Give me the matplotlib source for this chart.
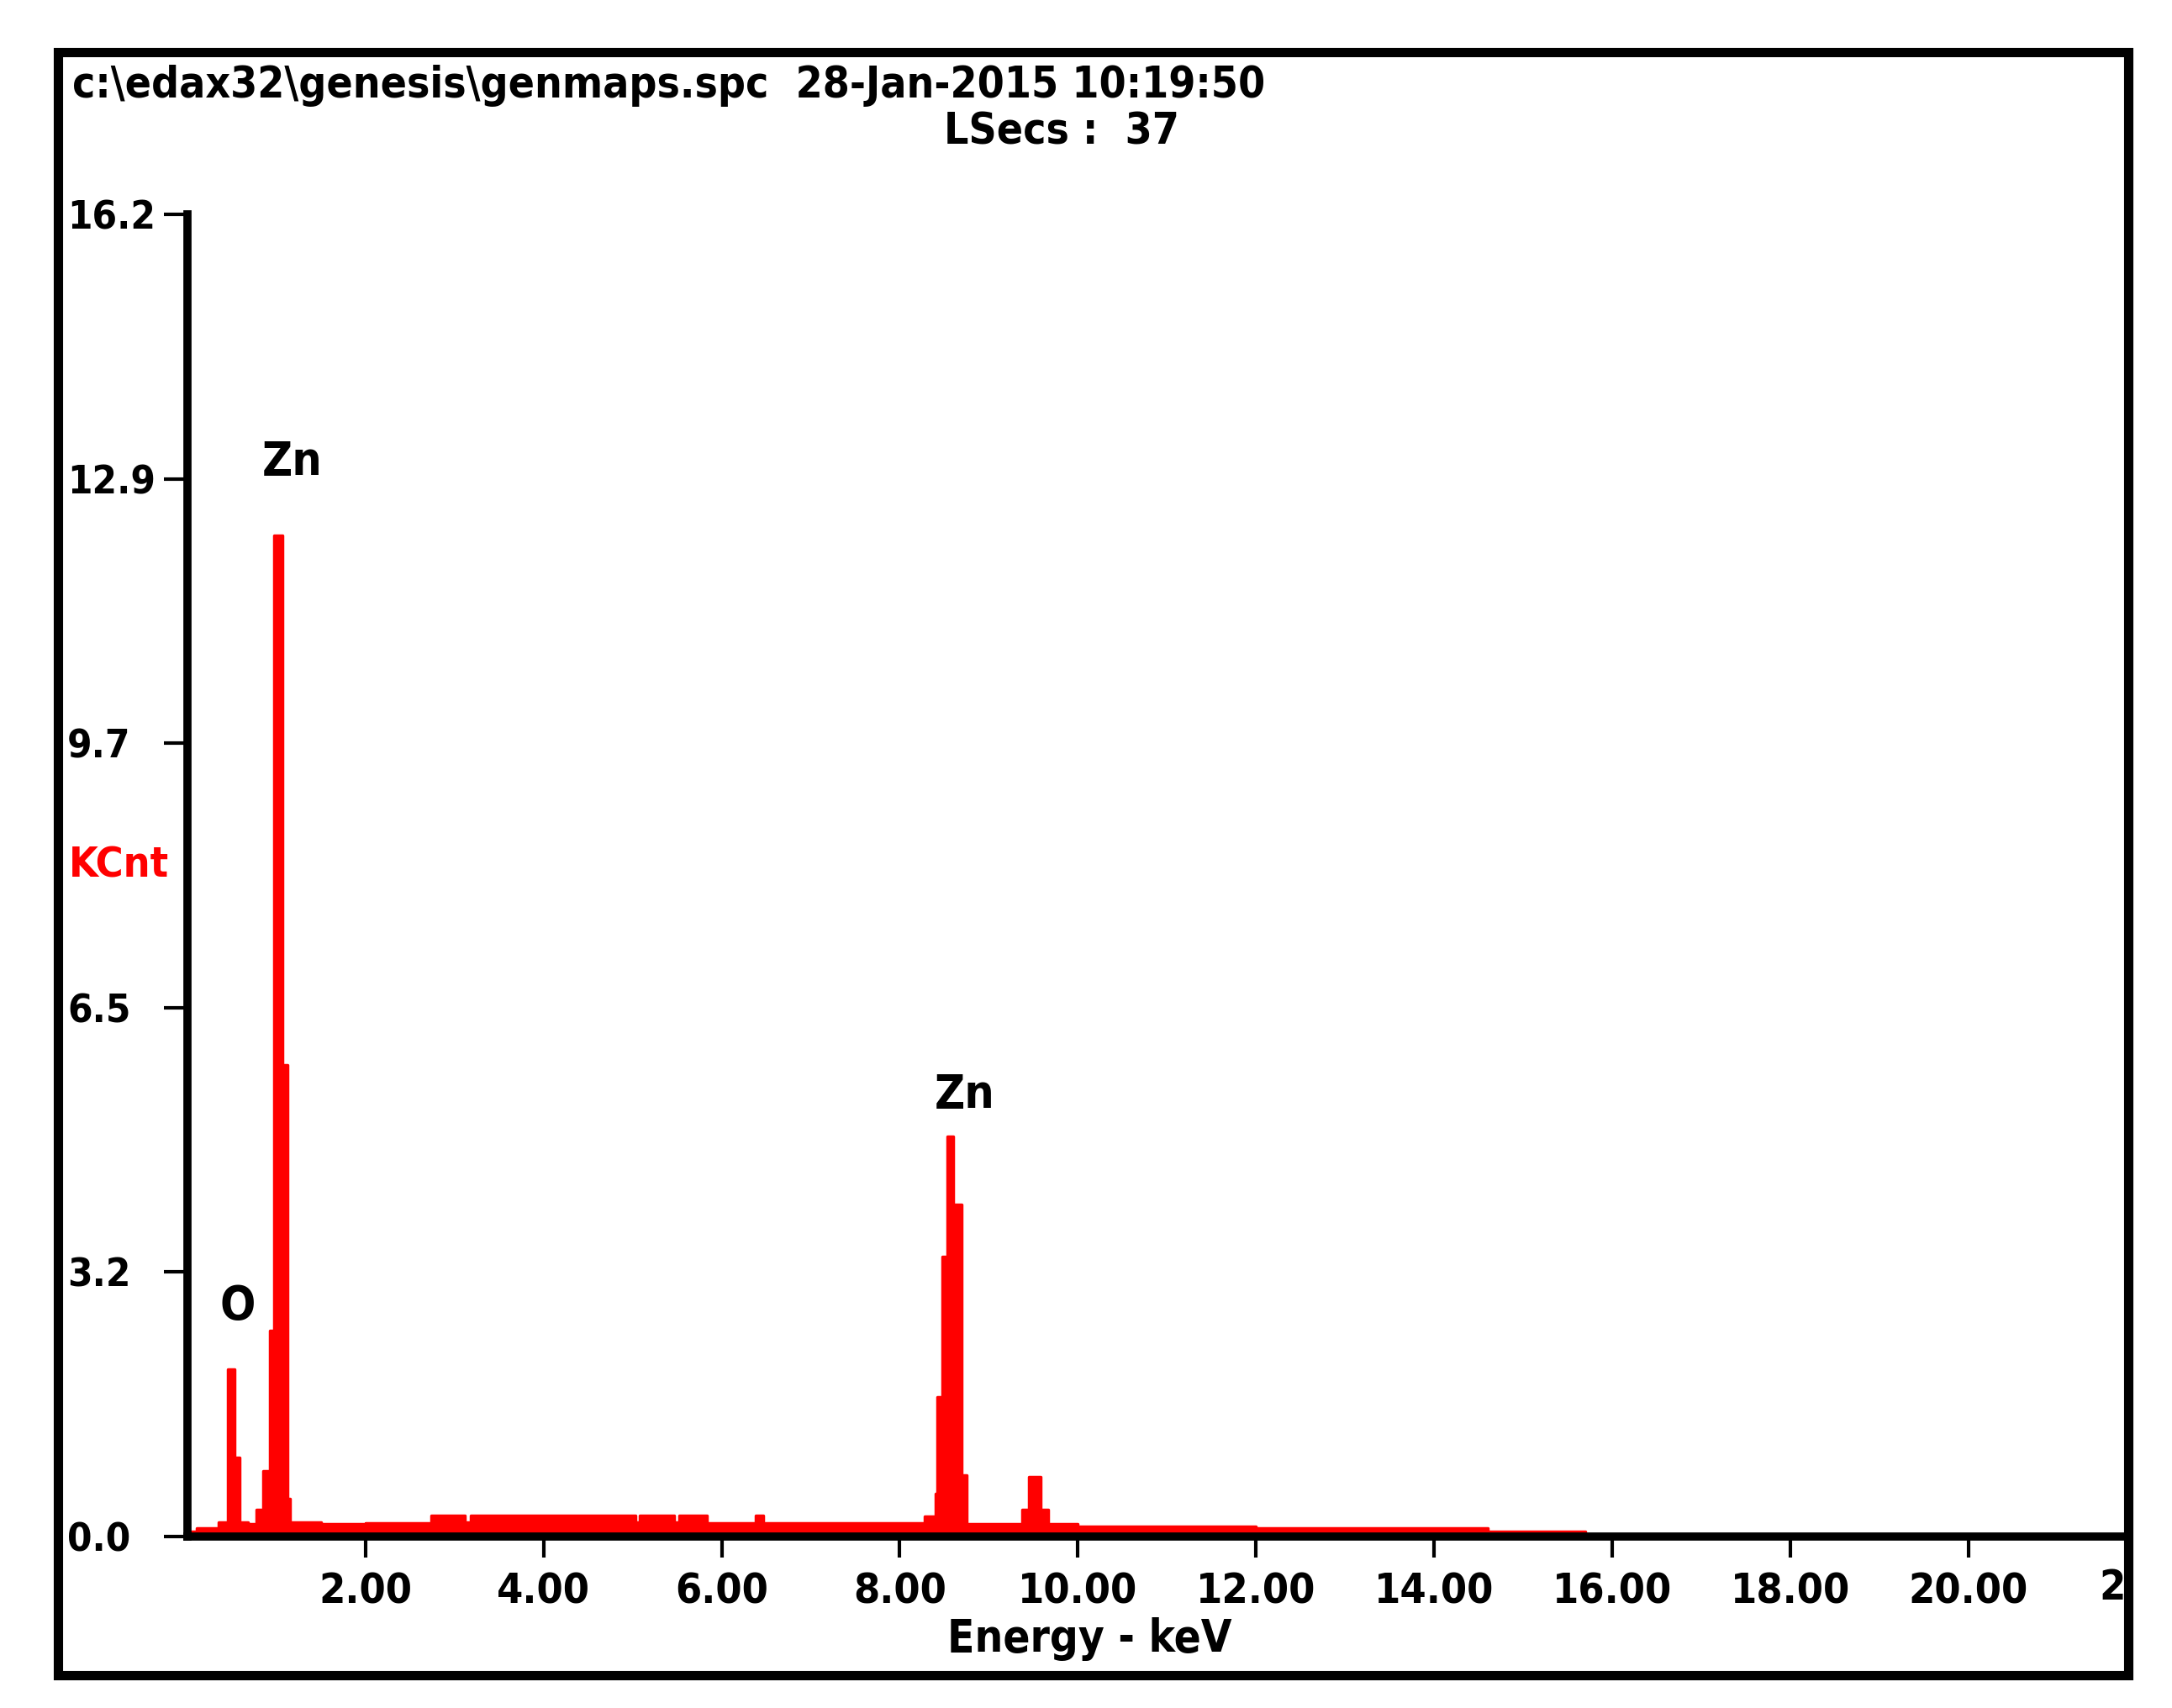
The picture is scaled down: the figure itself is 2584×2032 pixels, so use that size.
import matplotlib
matplotlib.use('Agg')
import matplotlib.pyplot as plt
from matplotlib import font_manager
from matplotlib.patches import Rectangle

# ---------------- data ----------------
# step outline of the EDS spectrum: left edge of each segment (keV) and counts (KCnt)
spec_e = [0.00, 0.10, 0.35, 0.45, 0.53, 0.59, 0.68, 0.77, 0.85, 0.925, 0.97, 1.07, 1.12, 1.15,
          1.50, 2.00, 2.74, 3.12, 3.18, 5.03, 5.08, 5.47, 5.52, 5.83, 6.38, 6.47,
          8.28, 8.40, 8.42, 8.48, 8.53, 8.60, 8.69, 8.75, 9.37, 9.45, 9.58, 9.67,
          10.00, 12.00, 14.60, 15.70]
spec_c = [0.06, 0.10, 0.18, 2.05, 0.97, 0.18, 0.15, 0.33, 0.80, 2.52, 12.27, 5.78, 0.46, 0.17,
          0.15, 0.16, 0.26, 0.17, 0.26, 0.18, 0.26, 0.18, 0.26, 0.16, 0.26, 0.16,
          0.25, 0.53, 1.71, 3.43, 4.90, 4.07, 0.75, 0.15, 0.33, 0.73, 0.33, 0.15,
          0.12, 0.10, 0.06, 0.0]

x_ticks = [2, 4, 6, 8, 10, 12, 14, 16, 18, 20]
x_ticklabels = ['2.00', '4.00', '6.00', '8.00', '10.00', '12.00', '14.00', '16.00', '18.00', '20.00']
y_ticks = [0.0, 3.24, 6.48, 9.72, 12.96, 16.2]
y_ticklabels = ['0.0', '3.2', '6.5', '9.7', '12.9', '16.2']

peak_labels = ['O', 'Zn', 'Zn']
peak_x = [0.56, 1.18, 8.73]
peak_y = [2.82, 13.16, 5.41]

header_1 = 'c:\\edax32\\genesis\\genmaps.spc  28-Jan-2015 10:19:50'
header_2 = 'LSecs :  37'

# ---------------- fonts ----------------
names = {f.name for f in font_manager.fontManager.ttflist}
if 'Liberation Sans Narrow' in names:
    FAM = ['Liberation Sans Narrow', 'DejaVu Sans']
    STRETCH = 'normal'
else:
    FAM = ['DejaVu Sans']
    STRETCH = 'condensed'
plt.rcParams['font.family'] = FAM
plt.rcParams['font.weight'] = 'bold'
plt.rcParams['font.stretch'] = STRETCH

W, H = 2584, 2032
fig = plt.figure(figsize=(W / 100, H / 100), dpi=100)
fig.patch.set_facecolor('white')

def fx(px):
    return px / W

def fy(py):
    return 1 - py / H

ax_l, ax_r, ax_t, ax_b = 223, 2528, 255, 1828
ax = fig.add_axes([fx(ax_l), fy(ax_b), fx(ax_r) - fx(ax_l), fy(ax_t) - fy(ax_b)])
ax.set_xlim(0, 21.76)
ax.set_ylim(0, 16.2)

red = '#ff0000'
ax.fill_between(spec_e, spec_c, 0, step='post', color=red, linewidth=0, zorder=2)
ax.step(spec_e, spec_c, where='post', color=red, linewidth=2.5, zorder=2)

for s in ['top', 'right']:
    ax.spines[s].set_visible(False)
for s in ['left', 'bottom']:
    ax.spines[s].set_linewidth(7)
    ax.spines[s].set_color('black')
    ax.spines[s].set_zorder(3)
    ax.spines[s].set_capstyle('projecting')
ax.set_facecolor('white')

TICK_FS = 36
ax.set_xticks(x_ticks)
ax.set_xticklabels(x_ticklabels)
ax.set_yticks(y_ticks)
ax.set_yticklabels(y_ticklabels)
ax.tick_params(axis='x', direction='out', length=18, width=3, pad=12, labelsize=TICK_FS)
ax.tick_params(axis='y', direction='out', length=20, width=3, pad=83, labelsize=34)
for lab in ax.get_yticklabels():
    lab.set_horizontalalignment('left')
for lab in ax.get_xticklabels() + ax.get_yticklabels():
    lab.set_fontweight('bold')

# partially visible 22.00 label (cut by the frame)
fig.text(fx(2497), fy(1889), '22.00', ha='left', va='center',
         fontsize=TICK_FS, fontweight='bold')

# axis labels
fig.text(fx(1296), fy(1950), 'Energy - keV', ha='center', va='center',
         fontsize=38, fontweight='bold')
fig.text(fx(82), fy(1030), 'KCnt', ha='left', va='center', color=red,
         fontsize=36, fontweight='bold')

# peak labels
for lab, px, py in zip(peak_labels, peak_x, peak_y):
    ax.text(px, py, lab, ha='center', va='center', fontsize=40, fontweight='bold')

# header
fig.text(fx(86), fy(102), header_1, ha='left', va='center', fontsize=37, fontweight='bold')
fig.text(fx(1263), fy(157), header_2, ha='center', va='center', fontsize=37, fontweight='bold')

# white cover right of the frame, then frame on top
fig.add_artist(Rectangle((fx(2527), 0), 1 - fx(2527), 1, transform=fig.transFigure,
                         facecolor='white', edgecolor='none', zorder=20))
fig.add_artist(Rectangle((fx(69), fy(1993)), fx(2532) - fx(69), fy(62) - fy(1993),
                         transform=fig.transFigure, facecolor='none', edgecolor='black',
                         linewidth=8, zorder=21))

fig.savefig('out.png', dpi=100, facecolor='white')
